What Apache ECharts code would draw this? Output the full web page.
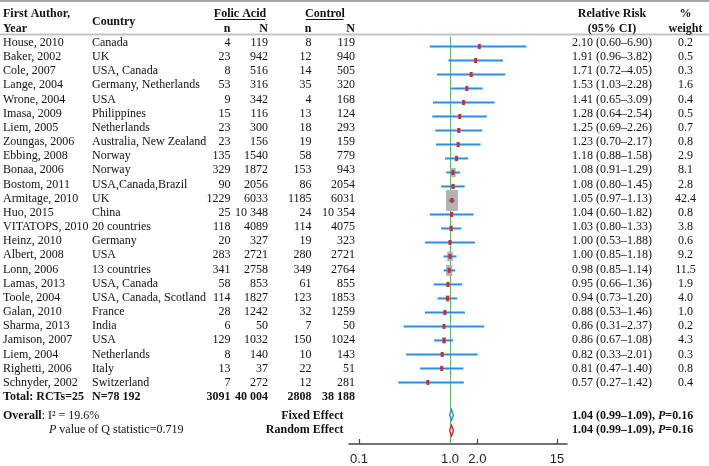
<!DOCTYPE html>
<html><head><meta charset="utf-8">
<script src="https://cdn.jsdelivr.net/npm/echarts@6/dist/echarts.min.js"></script>
<style>html,body{margin:0;padding:0;background:#fff}#c{width:709px;height:466px}</style>
</head><body><div id="c"></div>
<script>
// ---------------- DATA ----------------
const authors = ['House, 2010','Baker, 2002','Cole, 2007','Lange, 2004','Wrone, 2004','Imasa, 2009','Liem, 2005','Zoungas, 2006','Ebbing, 2008','Bonaa, 2006','Bostom, 2011','Armitage, 2010','Huo, 2015','VITATOPS, 2010','Heinz, 2010','Albert, 2008','Lonn, 2006','Lamas, 2013','Toole, 2004','Galan, 2010','Sharma, 2013','Jamison, 2007','Liem, 2004','Righetti, 2006','Schnyder, 2002'];
const countries = ['Canada','UK','USA, Canada','Germany, Netherlands','USA','Philippines','Netherlands','Australia, New Zealand','Norway','Norway','USA,Canada,Brazil','UK','China','20 countries','Germany','USA','13 countries','USA, Canada','USA, Canada, Scotland','France','India','USA','Netherlands','Italy','Switzerland'];
const folicEvents = [4,23,8,53,9,15,23,23,135,329,90,1229,25,118,20,283,341,58,114,28,6,129,8,13,7];
const folicTotal = [119,942,516,316,342,116,300,156,1540,1872,2056,6033,10348,4089,327,2721,2758,853,1827,1242,50,1032,140,37,272];
const controlEvents = [8,12,14,35,4,13,18,19,58,153,86,1185,24,114,19,280,349,61,123,32,7,150,10,22,12];
const controlTotal = [119,940,505,320,168,124,293,159,779,943,2054,6031,10354,4075,323,2721,2764,855,1853,1259,50,1024,143,51,281];
const rr = [2.10,1.91,1.71,1.53,1.41,1.28,1.25,1.23,1.18,1.08,1.08,1.05,1.04,1.03,1.00,1.00,0.98,0.95,0.94,0.88,0.86,0.86,0.82,0.81,0.57];
const ciLow = [0.60,0.96,0.72,1.03,0.65,0.64,0.69,0.70,0.88,0.91,0.80,0.97,0.60,0.80,0.53,0.85,0.85,0.66,0.73,0.53,0.31,0.67,0.33,0.47,0.27];
const ciHigh = [6.90,3.82,4.05,2.28,3.09,2.54,2.26,2.17,1.58,1.29,1.45,1.13,1.82,1.33,1.88,1.18,1.14,1.36,1.20,1.46,2.37,1.08,2.01,1.40,1.42];
const weights = [0.2,0.5,0.3,1.6,0.4,0.5,0.7,0.8,2.9,8.1,2.8,42.4,0.8,3.8,0.6,9.2,11.5,1.9,4.0,1.0,0.2,4.3,0.3,0.8,0.4];
const totals = [3091, 40004, 2808, 38188];
const totalTexts = ['Total: RCTs=25', 'N=78 192'];
const summaryNames = ['Fixed Effect', 'Random Effect'];
const summaryRR = [1.04, 1.04];
const summaryLow = [0.99, 0.99];
const summaryHigh = [1.09, 1.09];
const summaryP = [0.16, 0.16];
const heterogeneity = ['Overall', 'I² = 19.6%', 'value of Q statistic=0.719'];
const tickValues = [0.1, 1.0, 2.0, 15];
const tickLabels = ['0.1', '1.0', '2.0', '15'];

// ---------------- LAYOUT / STYLE ----------------
const SERIF = '"Liberation Serif","Times New Roman",serif';
const FS = 12;
const INK = '#111';
const COL = {author:3, country:92, fn:230.5, fN:268, cn:311.5, cN:355, rr:572, wt:685.5, sum:343.5, pval:49, folic:240, ctrl:325};
const ROW_SUM_TEXT = [26.35, 27.33];
const ROW_SUM_PLOT = [26.32, 27.44];
const BLUE = '#2b8de8', RED = '#d42a2a', GREY = '#b3b3b3', GREEN = '#5cb85c';

const fmt = n => n >= 10000 ? String(n).replace(/\B(?=(\d{3})+(?!\d))/g, ' ') : String(n);
const f2 = v => v.toFixed(2);

const RICH = {
  b: {fontFamily: SERIF, fontSize: FS, fontWeight: 'bold', fill: INK},
  i: {fontFamily: SERIF, fontSize: FS, fontStyle: 'italic', fill: INK},
  bi: {fontFamily: SERIF, fontSize: FS, fontWeight: 'bold', fontStyle: 'italic', fill: INK},
  n: {fontFamily: SERIF, fontSize: FS, fill: INK}
};

const items = [];
function add(x, row, text, align, bold){ items.push({x, row, text, align: align || 'left', bold: !!bold}); }
// headers
add(COL.author, -2, 'First Author,', 'left', true);
add(COL.author, -1, 'Year', 'left', true);
add(COL.country, -1.5, 'Country', 'left', true);
add(COL.folic, -2, 'Folic Acid', 'center', true);
add(COL.ctrl, -2, 'Control', 'center', true);
add(COL.fn, -1, 'n', 'right', true);
add(COL.fN, -1, 'N', 'right', true);
add(COL.cn, -1, 'n', 'right', true);
add(COL.cN, -1, 'N', 'right', true);
add(612, -2, 'Relative Risk', 'center', true);
add(612, -1, '(95% CI)', 'center', true);
add(COL.wt, -2, '%', 'center', true);
add(COL.wt, -1, 'weight', 'center', true);
// studies
authors.forEach((a, i) => {
  add(COL.author, i, a);
  add(COL.country, i, countries[i]);
  add(COL.fn, i, fmt(folicEvents[i]), 'right');
  add(COL.fN, i, fmt(folicTotal[i]), 'right');
  add(COL.cn, i, fmt(controlEvents[i]), 'right');
  add(COL.cN, i, fmt(controlTotal[i]), 'right');
  add(COL.rr, i, f2(rr[i]) + ' (' + f2(ciLow[i]) + '–' + f2(ciHigh[i]) + ')');
  add(COL.wt, i, weights[i].toFixed(1), 'center');
});
// totals
add(COL.author, 25, totalTexts[0], 'left', true);
add(COL.country, 25, totalTexts[1], 'left', true);
add(COL.fn, 25, fmt(totals[0]), 'right', true);
add(COL.fN, 25, fmt(totals[1]), 'right', true);
add(COL.cn, 25, fmt(totals[2]), 'right', true);
add(COL.cN, 25, fmt(totals[3]), 'right', true);
// overall
add(COL.author, ROW_SUM_TEXT[0], '{b|' + heterogeneity[0] + '}: ' + heterogeneity[1]);
add(COL.pval, ROW_SUM_TEXT[1], '{i|P} ' + heterogeneity[2]);
summaryNames.forEach((nm, k) => {
  add(COL.sum, ROW_SUM_TEXT[k], nm, 'right', true);
  add(COL.rr, ROW_SUM_TEXT[k], '{b|' + f2(summaryRR[k]) + ' (' + f2(summaryLow[k]) + '–' + f2(summaryHigh[k]) + '), }{bi|P}{b|=' + summaryP[k].toFixed(2) + '}');
});

const textSeries = {
  type: 'custom', xAxisIndex: 1, yAxisIndex: 1, silent: true, clip: false, z: 5,
  data: items.map(it => [it.x, it.row]),
  renderItem: (params, api) => {
    const it = items[params.dataIndex];
    const p = api.coord([api.value(0), api.value(1)]);
    return {type: 'text', x: p[0], y: p[1], style: {
      text: it.text, align: it.align, verticalAlign: 'middle',
      fontFamily: SERIF, fontSize: FS, fontWeight: it.bold ? 'bold' : 'normal', fill: INK, rich: RICH}};
  }
};

const studySeries = {
  type: 'custom', xAxisIndex: 0, yAxisIndex: 0, silent: true, clip: false, z: 3,
  data: rr.map((v, i) => [Math.log10(ciLow[i]), Math.log10(ciHigh[i]), Math.log10(v), i, weights[i]]),
  renderItem: (params, api) => {
    const y = api.value(3);
    const a = api.coord([api.value(0), y]);
    const b = api.coord([api.value(1), y]);
    const c = api.coord([api.value(2), y]);
    const s = Math.sqrt(api.value(4));
    const bh = 3.22 * s, bw = 1.84 * s;
    return {type: 'group', children: [
      {type: 'rect', shape: {x: c[0] - bw / 2, y: c[1] - bh / 2, width: bw, height: bh}, style: {fill: GREY}},
      {type: 'line', shape: {x1: a[0], y1: a[1], x2: b[0], y2: b[1]}, style: {stroke: BLUE, lineWidth: 2}},
      {type: 'rect', shape: {x: c[0] - 1.5, y: c[1] - 2.5, width: 3, height: 5}, style: {fill: RED}}
    ]};
  },
  markLine: {silent: true, symbol: 'none', label: {show: false}, z: 2,
    lineStyle: {color: GREEN, width: 1, type: 'solid'}, data: [{xAxis: 0}]}
};

const diamondColors = [BLUE, RED];
const diamondSeries = {
  type: 'custom', xAxisIndex: 0, yAxisIndex: 0, silent: true, clip: false, z: 4,
  data: summaryRR.map((v, k) => [Math.log10(summaryLow[k]), Math.log10(summaryHigh[k]), Math.log10(v), ROW_SUM_PLOT[k]]),
  renderItem: (params, api) => {
    const y = api.value(3);
    const a = api.coord([api.value(0), y]);
    const b = api.coord([api.value(1), y]);
    const c = api.coord([api.value(2), y]);
    const h = 5.3;
    return {type: 'polygon', shape: {points: [[a[0], c[1]], [c[0], c[1] - h], [b[0], c[1]], [c[0], c[1] + h]]},
      style: {fill: '#fff', stroke: diamondColors[params.dataIndex], lineWidth: 1.4}};
  }
};

const logTicks = tickValues.map(v => Math.log10(v));
const tickFmt = v => { let best = 0; logTicks.forEach((t, i) => { if (Math.abs(t - v) < Math.abs(logTicks[best] - v)) best = i; }); return tickLabels[best]; };

const option = {
  animation: false,
  backgroundColor: '#fff',
  grid: [
    {left: 349, right: 142, top: 36.7, bottom: 22, containLabel: false},
    {left: 0, right: 0, top: 0, bottom: 0, containLabel: false}
  ],
  xAxis: [
    {type: 'value', gridIndex: 0, min: -1.110, max: 1.286, position: 'bottom',
      axisLine: {show: true, onZero: false, lineStyle: {color: '#444', width: 1.5}},
      axisTick: {show: true, inside: true, length: 5, customValues: logTicks, lineStyle: {color: '#444', width: 1.2}},
      axisLabel: {show: true, customValues: logTicks, formatter: tickFmt, margin: 9,
        fontFamily: '"Liberation Sans Narrow","Liberation Sans",Arial,sans-serif', fontSize: 13, color: '#222'},
      splitLine: {show: false}},
    {type: 'value', gridIndex: 1, min: 0, max: 709, show: false}
  ],
  yAxis: [
    {type: 'value', gridIndex: 0, min: -0.7, max: 28.4, inverse: true, show: false},
    {type: 'value', gridIndex: 1, min: -3.013, max: 29.873, inverse: true, show: false}
  ],
  graphic: [
    {type: 'line', shape: {x1: 0, y1: 1, x2: 709, y2: 1}, style: {stroke: '#a8a8a8', lineWidth: 2}},
    {type: 'line', shape: {x1: 0, y1: 34.5, x2: 709, y2: 34.5}, style: {stroke: '#c4c4c4', lineWidth: 2}},
    {type: 'line', shape: {x1: 215, y1: 19.5, x2: 265, y2: 19.5}, style: {stroke: INK, lineWidth: 1}},
    {type: 'line', shape: {x1: 306, y1: 19.5, x2: 343.5, y2: 19.5}, style: {stroke: INK, lineWidth: 1}}
  ],
  series: [studySeries, diamondSeries, textSeries]
};

const chart = echarts.init(document.getElementById('c'), null, {renderer: 'canvas'});
chart.setOption(option);
</script>
</body></html>
